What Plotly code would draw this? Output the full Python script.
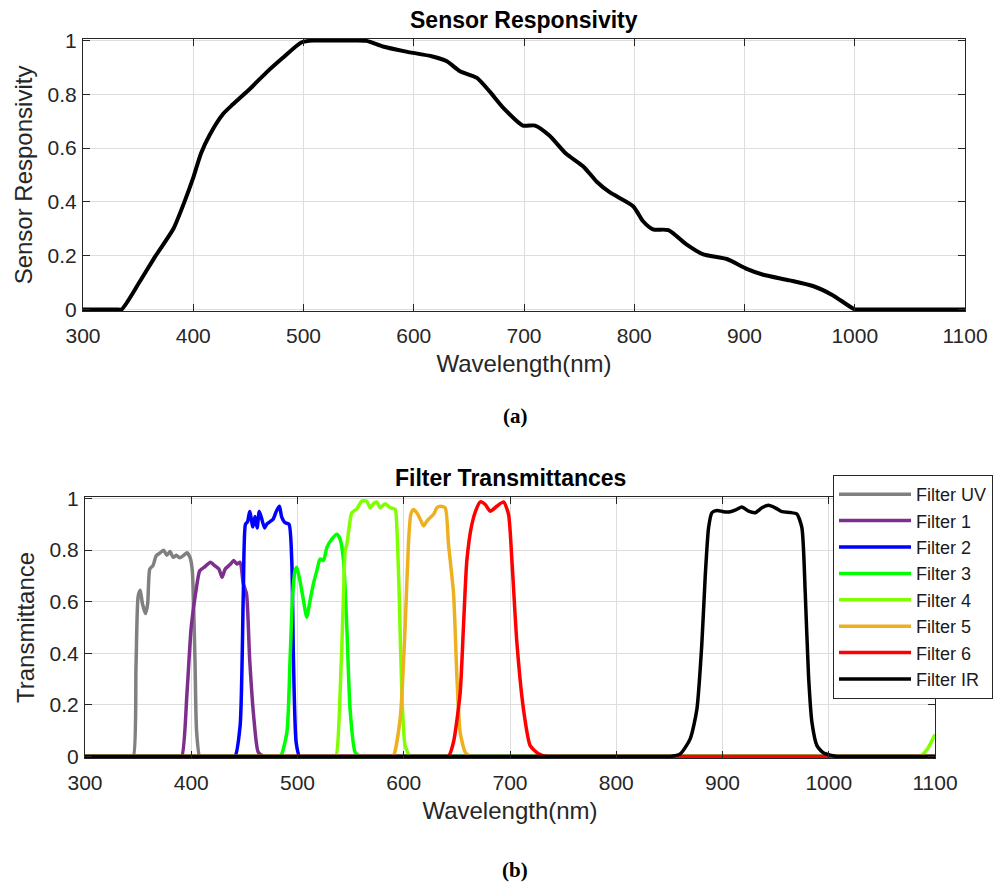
import plotly.graph_objects as go

# ---------------- data: sensor responsivity ----------------
wl_sensor = [300, 330, 335, 351, 366, 382, 392, 400, 407, 415, 427, 436, 451, 466, 481, 498, 509,
             539, 557, 572, 592, 617, 630, 642, 657, 669, 681, 699, 710, 723, 738, 754, 766,
             778, 799, 808, 817, 831, 847, 862, 884, 902, 917, 941, 962, 980, 1000, 1005, 1100]
resp_sensor = [0, 0, 0, 0.10, 0.20, 0.30, 0.40, 0.49, 0.58, 0.65, 0.727, 0.763, 0.819, 0.88, 0.935,
               0.993, 1.0, 1.0, 0.999, 0.978, 0.96, 0.941, 0.923, 0.886, 0.862, 0.81, 0.751,
               0.684, 0.684, 0.647, 0.58, 0.531, 0.475, 0.435, 0.384, 0.328, 0.298, 0.295,
               0.243, 0.206, 0.1875, 0.151, 0.129, 0.108, 0.087, 0.053, 0, 0, 0]

# ---------------- data: filter transmittances ----------------
wl_uv = [300, 342, 345.5, 348, 350, 352, 354, 357, 359, 361, 364, 367, 371, 374, 377, 380, 383,
         386, 389, 393, 396, 399, 401, 403.5, 405, 408, 412, 1100]
t_uv = [0, 0, 0, 0.35, 0.62, 0.644, 0.593, 0.554, 0.593, 0.727, 0.74, 0.778, 0.79, 0.80, 0.78,
        0.795, 0.772, 0.78, 0.77, 0.78, 0.79, 0.77, 0.72, 0.375, 0.1, 0, 0, 0]

wl_f1 = [300, 387, 391, 396, 400, 405, 408, 413, 418, 422, 426, 429, 432, 437, 440, 443, 446,
         449, 452, 455, 459, 463, 468, 472, 1100]
t_f1 = [0, 0, 0, 0.247, 0.503, 0.657, 0.72, 0.736, 0.753, 0.74, 0.727, 0.695, 0.727, 0.746, 0.76,
        0.746, 0.753, 0.67, 0.631, 0.375, 0.145, 0.017, 0, 0, 0]

wl_f2 = [300, 437, 441, 446, 449, 451, 453, 455, 458, 460, 462, 464, 466, 469, 471, 474, 477,
         480, 483, 485, 488, 492, 494.6, 496.2, 498.7, 502, 506, 1100]
t_f2 = [0, 0, 0, 0.12, 0.631, 0.90, 0.91, 0.95, 0.89, 0.93, 0.886, 0.95, 0.926, 0.886, 0.90,
        0.91, 0.92, 0.95, 0.97, 0.93, 0.907, 0.90, 0.76, 0.375, 0.055, 0, 0, 0]

wl_f3 = [300, 480, 484, 490, 493, 495.5, 497.7, 499.3, 502.4, 505.6, 508.7, 511.9, 515, 518.2,
         521.3, 524.5, 527.6, 532.3, 537, 540.1, 543.3, 546.4, 549.5, 554.2, 559, 563, 1100]
t_f3 = [0, 0, 0, 0.093, 0.375, 0.631, 0.72, 0.734, 0.68, 0.606, 0.54, 0.606, 0.67, 0.72, 0.766,
        0.76, 0.81, 0.843, 0.862, 0.843, 0.76, 0.503, 0.183, 0.017, 0, 0, 0]

wl_f4 = [300, 532, 536, 540.1, 543.3, 544.9, 546.4, 548, 551.1, 555.8, 560.5, 565.2, 568.4,
         571.5, 574.6, 577.8, 582.5, 587.2, 591.9, 593.5, 595.7, 598.2, 601.3, 606, 610, 1082,
         1086, 1093, 1100]
t_f4 = [0, 0, 0, 0.247, 0.63, 0.80, 0.82, 0.87, 0.945, 0.96, 0.99, 0.99, 0.964, 0.98, 0.987,
        0.964, 0.98, 0.964, 0.958, 0.887, 0.63, 0.247, 0.042, 0, 0, 0, 0, 0.03, 0.085]

wl_f5 = [300, 586, 590, 596.6, 601.3, 604.4, 606.7, 609.2, 612.3, 615.5, 618.6, 621.8, 624.9,
         628.1, 631.2, 634.3, 639, 642.1, 646.9, 650, 653.1, 657.8, 662.5, 666, 1100]
t_f5 = [0, 0, 0, 0.145, 0.503, 0.823, 0.94, 0.958, 0.945, 0.92, 0.894, 0.913, 0.926, 0.939,
        0.964, 0.97, 0.964, 0.823, 0.63, 0.311, 0.093, 0.017, 0, 0, 0]

wl_f6 = [300, 638, 642, 646.8, 653.1, 656.2, 659.4, 664.1, 668.8, 672, 676.7, 681.4, 687.6,
         693.9, 698.6, 701.8, 706.5, 712.7, 719, 726.9, 734.7, 739, 1100]
t_f6 = [0, 0, 0, 0.055, 0.247, 0.503, 0.76, 0.90, 0.964, 0.987, 0.977, 0.951, 0.97, 0.987, 0.939,
        0.76, 0.44, 0.183, 0.042, 0.01, 0, 0, 0]

wl_ir = [300, 845, 850.8, 860.2, 869.6, 875.9, 880.6, 883.7, 886.9, 890, 894.7, 901, 907.3,
         913.5, 918.2, 924.5, 930.8, 937.1, 943.3, 949.6, 955.9, 963.7, 970, 974.7, 977.9, 981,
         984.2, 988.9, 995.2, 1007.7, 1012, 1100]
t_ir = [0, 0, 0, 0.01, 0.068, 0.183, 0.44, 0.695, 0.887, 0.945, 0.954, 0.949, 0.949, 0.958, 0.967,
        0.951, 0.945, 0.964, 0.974, 0.964, 0.949, 0.946, 0.94, 0.887, 0.631, 0.311, 0.132, 0.042,
        0.013, 0, 0, 0]

filter_names = ["Filter UV", "Filter 1", "Filter 2", "Filter 3", "Filter 4", "Filter 5",
                "Filter 6", "Filter IR"]
filter_wl = [wl_uv, wl_f1, wl_f2, wl_f3, wl_f4, wl_f5, wl_f6, wl_ir]
filter_t = [t_uv, t_f1, t_f2, t_f3, t_f4, t_f5, t_f6, t_ir]
filter_colors = ["#808080", "#7E2F8E", "#0000FF", "#00FF00", "#80FF00", "#EDB120", "#FF0000",
                 "#000000"]

x_ticks = [300, 400, 500, 600, 700, 800, 900, 1000, 1100]
y_ticks = [0, 0.2, 0.4, 0.6, 0.8, 1]
y_ticklabels = ["0", "0.2", "0.4", "0.6", "0.8", "1"]

# ---------------- figure ----------------
W, H = 993, 886
FONT = "Liberation Sans, Arial, Helvetica, sans-serif"
AX = "#262626"

fig = go.Figure()
fig.add_trace(go.Scatter(x=wl_sensor, y=resp_sensor, mode="lines",
                         line=dict(color="black", width=4, shape="spline", smoothing=0.6),
                         showlegend=False, name="Sensor Responsivity", xaxis="x", yaxis="y"))
for name, xs, ys, c in zip(filter_names, filter_wl, filter_t, filter_colors):
    fig.add_trace(go.Scatter(x=xs, y=ys, mode="lines", name=name,
                             line=dict(color=c, width=3.5, shape="spline", smoothing=0.6),
                             xaxis="x2", yaxis="y2"))


def xax(domain, anchor):
    return dict(domain=domain, anchor=anchor, range=[300, 1100], tickvals=x_ticks,
                ticks="inside", ticklen=7, tickcolor=AX, showline=True, linecolor=AX,
                linewidth=1, mirror="ticks", showgrid=True, gridcolor="#dedede",
                zeroline=False, tickfont=dict(size=21, color=AX, family=FONT),
                ticklabelstandoff=6, automargin=True,
                title=dict(text="Wavelength(nm)", font=dict(size=24, color=AX, family=FONT),
                           standoff=8))


def yax(domain, anchor, title):
    return dict(domain=domain, anchor=anchor, range=[-0.006, 1.006], tickvals=y_ticks,
                ticktext=y_ticklabels, ticks="inside", ticklen=7, tickcolor=AX,
                showline=True, linecolor=AX, linewidth=1, mirror="ticks", showgrid=True,
                gridcolor="#dedede", zeroline=False,
                tickfont=dict(size=21, color=AX, family=FONT), ticklabelstandoff=1,
                automargin=True,
                title=dict(text=title, font=dict(size=24, color=AX, family=FONT), standoff=8))


top_x = [83 / W, 965 / W]
top_y = [1 - 311 / H, 1 - 39 / H]
bot_x = [85 / W, 935 / W]
bot_y = [1 - 758 / H, 1 - 497 / H]

fig.update_layout(
    width=W, height=H,
    margin=dict(l=0, r=0, t=0, b=0, autoexpand=False),
    paper_bgcolor="white", plot_bgcolor="white",
    font=dict(family=FONT, color=AX),
    xaxis=xax(top_x, "y"),
    yaxis=yax(top_y, "x", "Sensor Responsivity"),
    xaxis2=xax(bot_x, "y2"),
    yaxis2=yax(bot_y, "x2", "Transmittance"),
    legend=dict(x=833 / W, y=1 - 475 / H, xanchor="left", yanchor="top",
                bordercolor=AX, borderwidth=1, bgcolor="white",
                font=dict(size=18, color="#1a1a1a", family=FONT), itemwidth=72,
                tracegroupgap=0),
    annotations=[
        dict(text="<b>Sensor Responsivity</b>", x=sum(top_x) / 2, y=1 - 20 / H,
             xref="paper", yref="paper", showarrow=False, xanchor="center", yanchor="middle",
             font=dict(size=23, color="black", family=FONT)),
        dict(text="<b>Filter Transmittances</b>", x=sum(bot_x) / 2, y=1 - 478 / H,
             xref="paper", yref="paper", showarrow=False, xanchor="center", yanchor="middle",
             font=dict(size=23, color="black", family=FONT)),
        dict(text="<b>(a)</b>", x=515 / W, y=1 - 416 / H, xref="paper", yref="paper",
             showarrow=False, xanchor="center", yanchor="middle",
             font=dict(size=21, color="black", family="Liberation Serif, Times New Roman, serif")),
        dict(text="<b>(b)</b>", x=515 / W, y=1 - 870 / H, xref="paper", yref="paper",
             showarrow=False, xanchor="center", yanchor="middle",
             font=dict(size=21, color="black", family="Liberation Serif, Times New Roman, serif")),
    ],
)

fig.write_html("out.html")
